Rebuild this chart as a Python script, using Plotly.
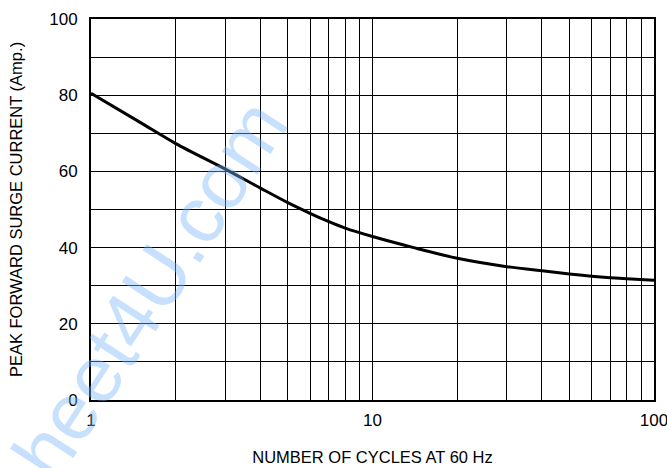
import plotly.graph_objects as go

# Data
cycles = [1, 1.5, 2, 3, 4, 5, 6, 7, 8, 10, 14, 20, 30, 40, 50, 60, 70, 80, 100]
current = [80.5, 72.8, 67.3, 60.6, 55.6, 51.8, 49.0, 46.8, 45.1, 42.9, 40.0, 37.2, 35.0, 33.9, 33.1, 32.5, 32.1, 31.8, 31.4]

x_grid = [1, 2, 3, 4, 5, 6, 7, 8, 9, 10, 20, 30, 40, 50, 60, 70, 80, 90, 100]
x_labels = ["1", "", "", "", "", "", "", "", "", "10", "", "", "", "", "", "", "", "", "100"]
y_grid = [0, 10, 20, 30, 40, 50, 60, 70, 80, 90, 100]
y_labels = ["0", "", "20", "", "40", "", "60", "", "80", "", "100"]

FONT = "Liberation Sans Narrow, Arial Narrow, Liberation Sans, Arial, sans-serif"

fig = go.Figure()
fig.add_trace(go.Scatter(
    x=cycles, y=current, mode="lines",
    line=dict(color="black", width=3, shape="spline", smoothing=0.8),
    showlegend=False, hoverinfo="skip",
))

fig.add_annotation(
    text="heet4U.com", xref="paper", yref="paper", x=0.105, y=0.289,
    xanchor="center", yanchor="middle",
    showarrow=False, textangle=-57,
    font=dict(family="Liberation Sans, Arial, sans-serif", size=80, color="rgba(120,180,250,0.42)"),
)

fig.update_layout(
    width=667, height=468,
    margin=dict(l=91, r=13, t=19, b=68),
    paper_bgcolor="white", plot_bgcolor="white",
    font=dict(family=FONT, size=17, color="black"),
    xaxis=dict(
        type="log", range=[0, 2], automargin=False,
        tickvals=x_grid, ticktext=x_labels,
        showgrid=True, gridcolor="black", gridwidth=1.3,
        showline=True, linecolor="black", linewidth=2, mirror=True,
        ticks="", ticklabelstandoff=4, ticklabeloverflow="allow",
        title=dict(text="NUMBER OF CYCLES AT 60 Hz", standoff=22, font=dict(size=16.5)),
        zeroline=False,
    ),
    yaxis=dict(
        range=[0, 100], automargin=False,
        tickvals=y_grid, ticktext=y_labels,
        showgrid=True, gridcolor="black", gridwidth=1.3,
        showline=True, linecolor="black", linewidth=2, mirror=True,
        ticks="", ticklabelstandoff=8,
        title=dict(text="PEAK FORWARD SURGE CURRENT (Amp.)", standoff=22, font=dict(size=16.5)),
        zeroline=False,
    ),
)

fig.write_html(
    "out.html",
    config={"displayModeBar": False},
    post_script="document.body.style.margin='0';document.body.style.overflow='hidden';",
)
